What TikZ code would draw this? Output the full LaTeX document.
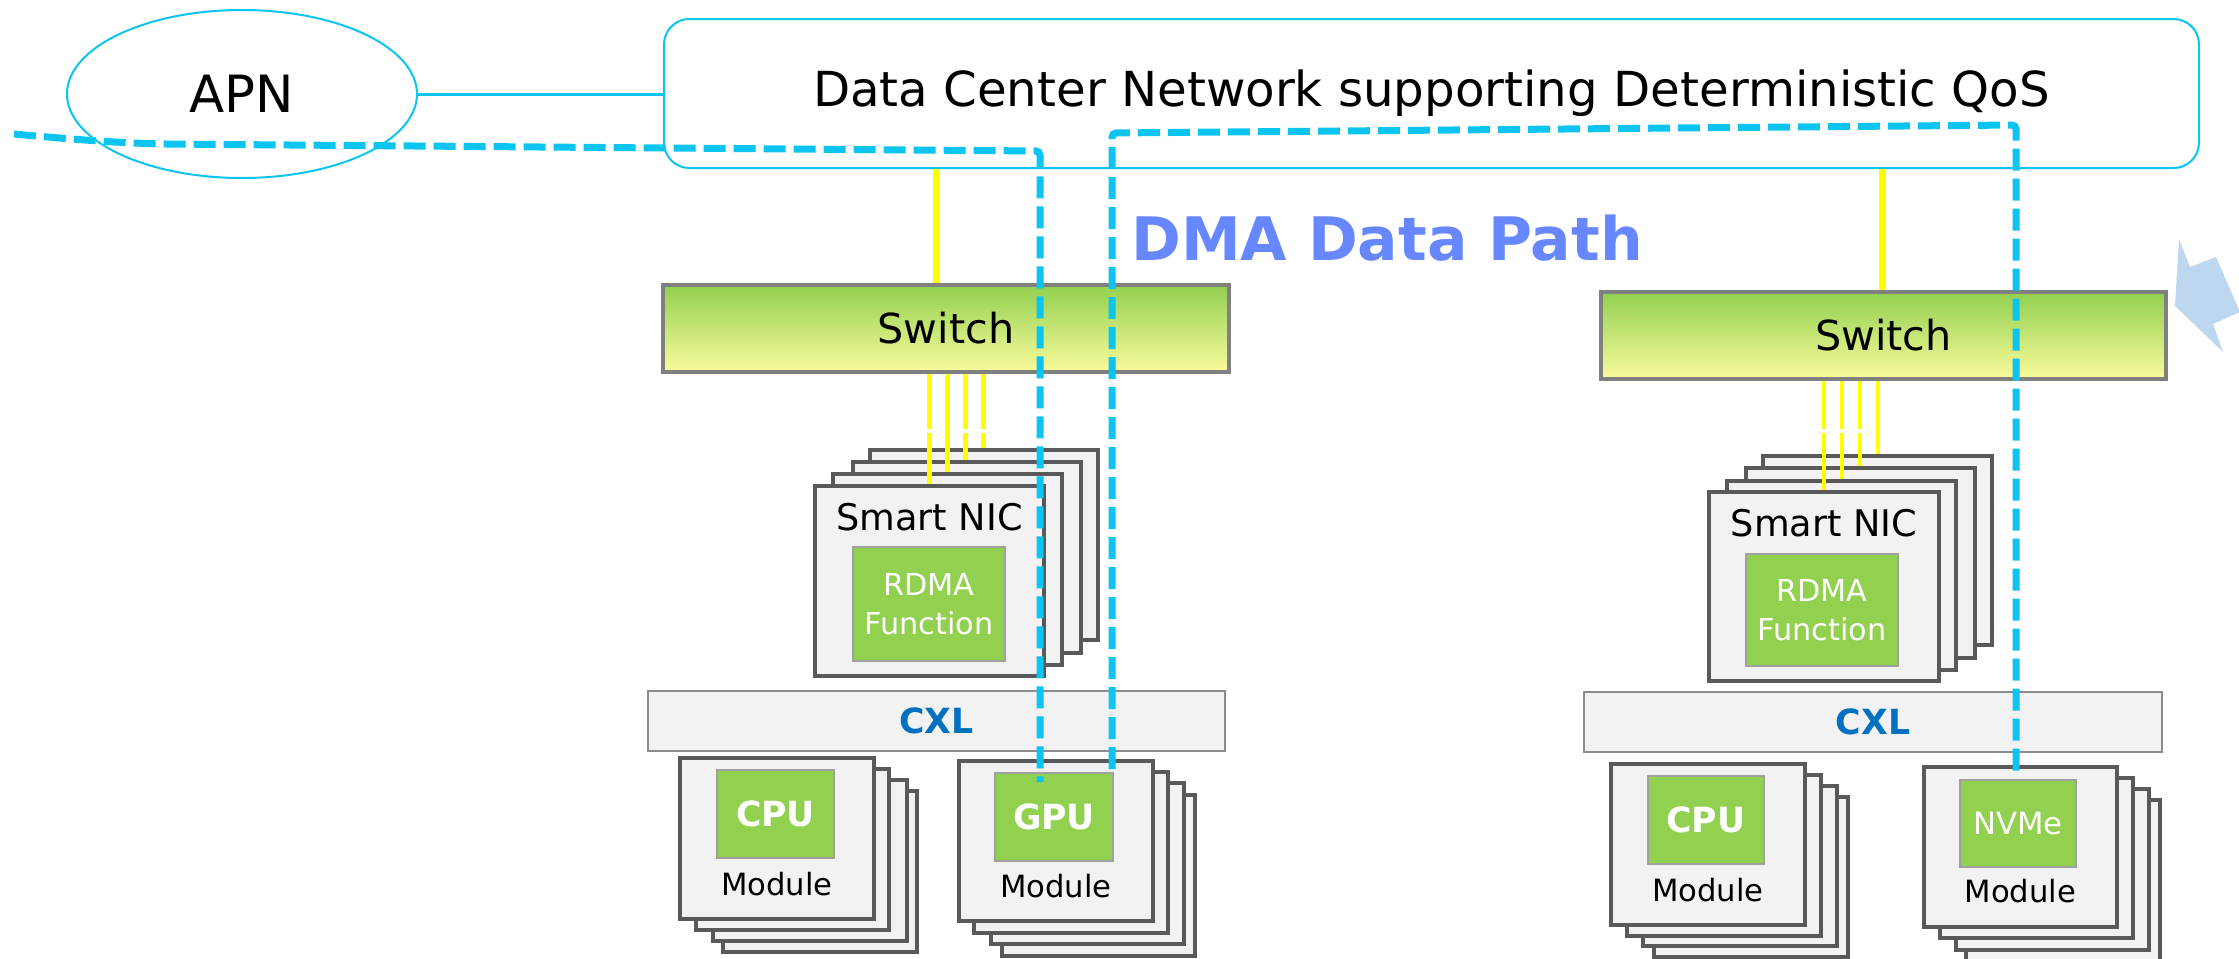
\documentclass[tikz,border=0pt]{standalone}
\usepackage{fontspec}
\setmainfont{DejaVu Sans}
\usetikzlibrary{fit,shapes.geometric,calc}
\definecolor{cyn}{RGB}{11,196,240}
\definecolor{ylw}{RGB}{255,255,0}
\definecolor{swgray}{RGB}{128,128,128}
\definecolor{swgreen}{RGB}{146,208,80}
\definecolor{swyellow}{RGB}{250,251,156}
\definecolor{boxgray}{RGB}{89,89,89}
\definecolor{boxfill}{RGB}{242,242,242}
\definecolor{grn}{RGB}{146,208,80}
\definecolor{grnline}{RGB}{160,160,160}
\definecolor{cxlline}{RGB}{140,140,140}
\definecolor{cxlblue}{RGB}{0,112,192}
\definecolor{dmablue}{RGB}{103,135,255}
\definecolor{arrowblue}{RGB}{189,215,238}
\tikzset{
  fitbox/.style={fit={#1}, inner sep=0pt, rectangle},
  netbox/.style={draw=cyn, line width=1.5pt, rounded corners=19pt},
  nettext/.style={inner sep=0pt, text=black, font=\fontsize{36.2}{43}\selectfont},
  apnnode/.style={ellipse, draw=cyn, line width=1.5pt, minimum width=262.5pt, minimum height=126pt, inner sep=0pt, font=\fontsize{38.5}{46}\selectfont},
  switchbox/.style={draw=swgray, line width=3.4pt, top color=swgreen, middle color=swgreen!45!swyellow, bottom color=swyellow},
  swtext/.style={inner sep=0pt, text=black, font=\fontsize{31}{37}\selectfont},
  stackbox/.style={draw=boxgray, fill=boxfill, line width=3pt},
  greenbox/.style={draw=grnline, fill=grn, line width=1pt},
  rdmatext/.style={inner sep=0pt, text=white, align=center, font=\fontsize{22.7}{29}\selectfont},
  chiptext/.style={inner sep=0pt, text=white, font=\bfseries\fontsize{26}{31}\selectfont},
  nvmetext/.style={inner sep=0pt, text=white, font=\fontsize{23}{28}\selectfont},
  nictext/.style={inner sep=0pt, font=\fontsize{27.5}{33}\selectfont},
  modtext/.style={inner sep=0pt, font=\fontsize{23}{28}\selectfont},
  cxlbox/.style={draw=cxlline, fill=boxfill, line width=1.5pt},
  cxltext/.style={inner sep=0pt, text=cxlblue, font=\bfseries\fontsize{26}{31}\selectfont},
  ylwthick/.style={draw=ylw, line width=5.2pt},
  ylwthin/.style={draw=ylw, line width=3.5pt},
  gapline/.style={draw=white, line width=3.5pt},
  connline/.style={draw=cyn, line width=2.25pt},
  dmapath/.style={draw=cyn, line width=5.25pt, dash pattern=on 16.5pt off 6pt, rounded corners=3pt},
  dmatext/.style={inner sep=0pt, text=dmablue, font=\bfseries\fontsize{45}{54}\selectfont}
}
\begin{document}
\begin{tikzpicture}[x=0.75pt,y=-0.75pt]
\useasboundingbox (0,0) rectangle (2239,958);

% network
\node[apnnode] (apn) at (242,94) {APN};
\node[fitbox={(664,19) (2199,168)}, netbox, label={[nettext]center:Data Center Network supporting Deterministic QoS}] (dcn) {};
\draw[connline] (apn.east) -- (apn.east -| dcn.west);

% switches
\node[fitbox={(663,285) (1229,372)}, switchbox, label={[swtext]center:Switch}] (swL) {};
\node[fitbox={(1601,292) (2166,379)}, switchbox, label={[swtext]center:Switch}] (swR) {};

% left NIC stack
\node[fitbox={(870,450) (1098,640)}, stackbox] (nicL4) {};
\node[fitbox={(853,462) (1081,653)}, stackbox] (nicL3) {};
\node[fitbox={(833,474) (1062,665)}, stackbox] (nicL2) {};
\node[fitbox={(815,486) (1044,676)}, stackbox] (nicL1) {};
\node[nictext] (nicLt) at ([yshift=-24.75pt]nicL1.north) {Smart NIC};
\node[fitbox={(853,547) (1005,661)}, greenbox, label={[rdmatext]center:{RDMA\\Function}}] (rdmaL) {};

% right NIC stack
\node[fitbox={(1763,456) (1992,645)}, stackbox] (nicR4) {};
\node[fitbox={(1746,468) (1975,658)}, stackbox] (nicR3) {};
\node[fitbox={(1727,481) (1956,670)}, stackbox] (nicR2) {};
\node[fitbox={(1709,492) (1939,681)}, stackbox] (nicR1) {};
\node[nictext] (nicRt) at ([yshift=-24.75pt]nicR1.north) {Smart NIC};
\node[fitbox={(1746,554) (1898,666)}, greenbox, label={[rdmatext]center:{RDMA\\Function}}] (rdmaR) {};

% CXL
\node[fitbox={(648,691) (1225,751)}, cxlbox, label={[cxltext]center:CXL}] (cxlL) {};
\node[fitbox={(1584,692) (2162,752)}, cxlbox, label={[cxltext]center:CXL}] (cxlR) {};

% left CPU modules
\node[fitbox={(723,791) (917,952)}, stackbox] (cpuL4) {};
\node[fitbox={(713,780) (907,941)}, stackbox] (cpuL3) {};
\node[fitbox={(696,769) (889,930)}, stackbox] (cpuL2) {};
\node[fitbox={(680,758) (874,919)}, stackbox] (cpuL1) {};
\node[fitbox={(717,770) (834,858)}, greenbox, label={[chiptext]center:CPU}] (cpuLg) {};
\node[modtext] (cpuLt) at ([yshift=-96pt]cpuL1.north) {Module};

% GPU modules
\node[fitbox={(1002,795) (1195,956)}, stackbox] (gpu4) {};
\node[fitbox={(991,783) (1184,944)}, stackbox] (gpu3) {};
\node[fitbox={(974,772) (1168,933)}, stackbox] (gpu2) {};
\node[fitbox={(959,761) (1153,921)}, stackbox] (gpu1) {};
\node[fitbox={(995,773) (1113,861)}, greenbox, label={[chiptext]center:GPU}] (gpug) {};
\node[modtext] (gput) at ([yshift=-95.25pt]gpu1.north) {Module};

% right CPU modules
\node[fitbox={(1654,797) (1848,957)}, stackbox] (cpuR4) {};
\node[fitbox={(1643,786) (1837,946)}, stackbox] (cpuR3) {};
\node[fitbox={(1627,775) (1821,936)}, stackbox] (cpuR2) {};
\node[fitbox={(1611,764) (1805,925)}, stackbox] (cpuR1) {};
\node[fitbox={(1648,776) (1764,864)}, greenbox, label={[chiptext]center:CPU}] (cpuRg) {};
\node[modtext] (cpuRt) at ([yshift=-96pt]cpuR1.north) {Module};

% NVMe modules
\node[fitbox={(1966,800) (2160,961)}, stackbox] (nv4) {};
\node[fitbox={(1956,789) (2149,950)}, stackbox] (nv3) {};
\node[fitbox={(1940,778) (2133,938)}, stackbox] (nv2) {};
\node[fitbox={(1924,767) (2117,927)}, stackbox] (nv1) {};
\node[fitbox={(1960,780) (2076,867)}, greenbox, label={[nvmetext]center:NVMe}] (nvg) {};
\node[modtext] (nvt) at ([yshift=-94.5pt]nv1.north) {Module};

% yellow uplinks
\draw[ylwthick] ([xshift=-7.1pt]swL.north) -- ([xshift=-7.1pt]swL.north |- dcn.south);
\draw[ylwthick] ([xshift=-1.1pt]swR.north) -- ([xshift=-1.1pt]swR.north |- dcn.south);

% yellow downlinks left
\coordinate (yl1) at (nicL1.north);
\coordinate (yl2) at ($(nicL1.north)+(18,0)$);
\coordinate (yl3) at ($(nicL1.north)+(36,0)$);
\coordinate (yl4) at ($(nicL1.north)+(54,0)$);
\draw[ylwthin] (yl1 |- nicL1.north) -- (yl1 |- swL.south);
\draw[ylwthin] (yl3 |- nicL3.north) -- (yl3 |- swL.south);
\draw[ylwthin] (yl4 |- nicL4.north) -- (yl4 |- swL.south);
\draw[gapline] (925,431) -- (936,431);
\draw[gapline] (961,431) -- (989,431);
\draw[ylwthin] (yl2 |- nicL2.north) -- (yl2 |- swL.south);

% yellow downlinks right
\coordinate (yr1) at (nicR1.north);
\coordinate (yr2) at ($(nicR1.north)+(18,0)$);
\coordinate (yr3) at ($(nicR1.north)+(36,0)$);
\coordinate (yr4) at ($(nicR1.north)+(54,0)$);
\draw[ylwthin] (yr1 |- nicR1.north) -- (yr1 |- swR.south);
\draw[ylwthin] (yr2 |- nicR2.north) -- (yr2 |- swR.south);
\draw[ylwthin] (yr3 |- nicR3.north) -- (yr3 |- swR.south);
\draw[gapline] (1819,431) -- (1864,431);
\draw[ylwthin] (yr4 |- nicR4.north) -- (yr4 |- swR.south);

% DMA data paths
\coordinate (d1s) at (14,134);
\coordinate (d1m) at (165,144);
\coordinate (d1b) at (1040,151);
\coordinate (d1e) at (1040,782);
\draw[dmapath] (d1s) .. controls (80,140) and (120,143) .. (d1m) -- (d1b) -- (d1e);
\coordinate (d2s) at (1112,769);
\coordinate (d2a) at (1112,133);
\coordinate (d2b) at (2016,125);
\coordinate (d2e) at (2016,774);
\draw[dmapath] (d2s) -- (d2a) -- (d2b) -- (d2e);

\node[dmatext, anchor=base west] (dma) at (1131,260) {DMA Data Path};

% partial block arrow at right edge
\fill[arrowblue] (2179,239) -- (2190,267) -- (2216,257) -- (2240,312) -- (2213,324) -- (2223,352) -- (2175,306) -- cycle;
\end{tikzpicture}
\end{document}
